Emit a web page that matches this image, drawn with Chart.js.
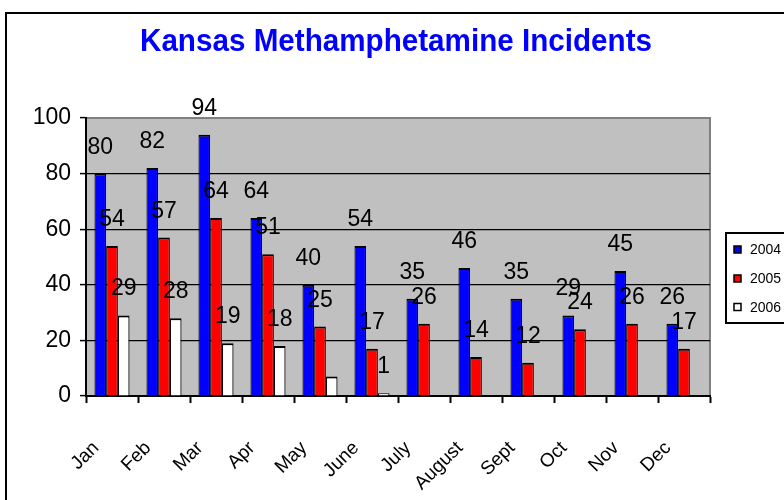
<!DOCTYPE html>
<html>
<head>
<meta charset="utf-8">
<script src="https://cdn.jsdelivr.net/npm/chart.js@4.4.0/dist/chart.umd.min.js"></script>
<style>
html, body { margin: 0; padding: 0; background: #fff; }
#wrap { width: 784px; height: 500px; position: relative; }
</style>
</head>
<body>
<div id="wrap"><canvas id="chart"></canvas></div>
<script>
// chart data
const months = ["Jan", "Feb", "Mar", "Apr", "May", "June", "July", "August", "Sept", "Oct", "Nov", "Dec"];
const years = ["2004", "2005", "2006"];
const incidents2004 = [80, 82, 94, 64, 40, 54, 35, 46, 35, 29, 45, 26];
const incidents2005 = [54, 57, 64, 51, 25, 17, 26, 14, 12, 24, 26, 17];
const incidents2006 = [29, 28, 19, 18, 7, 1, null, null, null, null, null, null];
const yTicks = [0, 20, 40, 60, 80, 100];
// the 2006 May value has no label in the original
const unlabelled2006 = ["May"];

const barColors = ["#0000ff", "#ff0000", "#ffffff"];
const titleText = "Kansas Methamphetamine Incidents";

// draws the excel style frame, title, rotated month names, value labels and legend
const excelLook = {
  id: 'excelLook',
  beforeDraw(chart) {
    const ctx = chart.ctx, a = chart.chartArea;
    ctx.save();
    ctx.fillStyle = '#fff';
    ctx.fillRect(0, 0, chart.width, chart.height);
    ctx.strokeStyle = '#000';
    ctx.lineWidth = 2;
    ctx.strokeRect(6, 13, 820, 520);
    ctx.fillStyle = '#c0c0c0';
    ctx.fillRect(a.left, a.top, a.right - a.left, a.bottom - a.top);
    ctx.strokeStyle = '#808080';
    ctx.beginPath();
    ctx.moveTo(a.left, a.top);
    ctx.lineTo(a.right, a.top);
    ctx.lineTo(a.right, a.bottom);
    ctx.stroke();
    ctx.restore();
  },
  afterDatasetsDraw(chart) {
    const ctx = chart.ctx;
    ctx.save();
    ctx.font = '23px "Liberation Sans", Arial, sans-serif';
    ctx.fillStyle = '#000';
    ctx.textAlign = 'center';
    ctx.textBaseline = 'alphabetic';
    chart.data.datasets.forEach(function(ds, i) {
      const meta = chart.getDatasetMeta(i);
      meta.data.forEach(function(bar, j) {
        const v = ds.data[j];
        if (v === null) return;
        if (i === 2 && unlabelled2006.indexOf(months[j]) >= 0) return;
        ctx.fillText(String(v), bar.x, bar.y - 20);
      });
    });
    ctx.restore();
  },
  afterDraw(chart) {
    const ctx = chart.ctx;
    const xScale = chart.scales.x;
    ctx.save();
    // title, squeezed to look like a narrow bold face
    ctx.font = 'bold 32px "Liberation Sans", Arial, sans-serif';
    ctx.fillStyle = '#0000ff';
    ctx.textAlign = 'center';
    ctx.textBaseline = 'alphabetic';
    const w = ctx.measureText(titleText).width;
    ctx.save();
    ctx.translate(396, 51);
    ctx.scale(512 / w, 1);
    ctx.fillText(titleText, 0, 0);
    ctx.restore();
    // month names
    ctx.font = '19px "Liberation Sans", Arial, sans-serif';
    ctx.fillStyle = '#000';
    ctx.textAlign = 'right';
    ctx.textBaseline = 'middle';
    months.forEach(function(m, j) {
      const x = xScale.getPixelForValue(j);
      ctx.save();
      ctx.translate(x - 16, 445);
      ctx.rotate(-Math.PI / 4);
      ctx.fillText(m, 0, 0);
      ctx.restore();
    });
    // legend
    ctx.strokeStyle = '#000';
    ctx.lineWidth = 2;
    ctx.strokeRect(726, 233, 100, 90);
    ctx.font = '14px "Liberation Sans", Arial, sans-serif';
    ctx.textAlign = 'left';
    const rows = [249.5, 278.5, 307];
    years.forEach(function(y, i) {
      ctx.fillStyle = barColors[i];
      ctx.fillRect(734, rows[i] - 3.5, 7, 7);
      ctx.lineWidth = 1.5;
      ctx.strokeRect(734, rows[i] - 3.5, 7, 7);
      ctx.fillStyle = '#000';
      ctx.fillText(y, 750, rows[i] + 1);
    });
    ctx.restore();
  }
};

const series = [incidents2004, incidents2005, incidents2006];
const chartData = {
  labels: months,
  datasets: series.map(function(vals, i) {
    return {
      label: years[i],
      data: vals,
      backgroundColor: barColors[i],
      borderColor: '#000',
      borderWidth: { top: 2, left: 1.2, right: 1.2, bottom: 0 },
      borderSkipped: false,
      categoryPercentage: 0.675,
      barPercentage: 1
    };
  })
};

new Chart(document.getElementById('chart'), {
  type: 'bar',
  data: chartData,
  options: {
    responsive: true,
    maintainAspectRatio: false,
    animation: false,
    layout: { padding: { top: 118, right: 74, left: 0, bottom: 0 } },
    plugins: {
      legend: { display: false },
      title: { display: false },
      tooltip: { enabled: false }
    },
    scales: {
      x: {
        offset: true,
        afterFit: function(scale) { scale.height = 104; },
        grid: {
          offset: true,
          drawOnChartArea: false,
          drawTicks: true,
          tickLength: 7,
          tickColor: '#000',
          tickWidth: 2
        },
        border: { color: '#000', width: 2 },
        ticks: { display: false }
      },
      y: {
        min: 0,
        max: 100,
        afterBuildTicks: function(scale) {
          scale.ticks = yTicks.map(function(v) { return { value: v }; });
        },
        afterFit: function(scale) { scale.width = 86; },
        grid: {
          color: function(c) { return c.tick && c.tick.value === 100 ? '#808080' : '#000'; },
          lineWidth: 1.2,
          tickLength: 6,
          tickColor: '#000',
          tickWidth: 1.5
        },
        border: { color: '#000', width: 2 },
        ticks: {
          padding: 9,
          color: '#000',
          font: { family: '"Liberation Sans", Arial, sans-serif', size: 23 }
        }
      }
    }
  },
  plugins: [excelLook]
});
</script>
</body>
</html>
